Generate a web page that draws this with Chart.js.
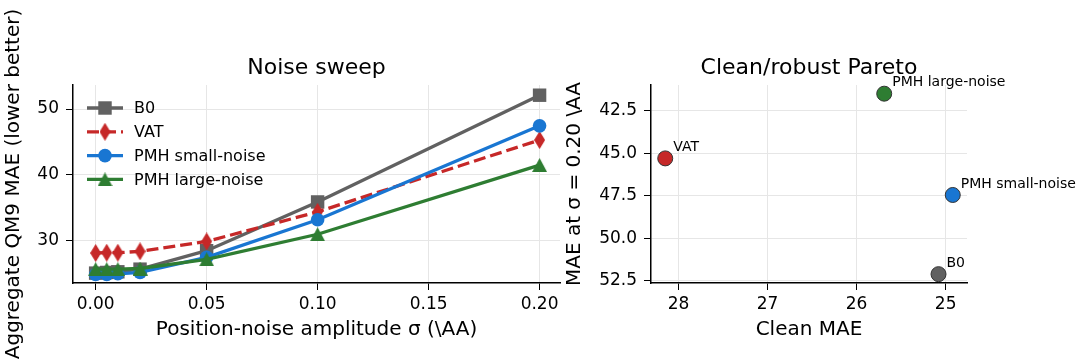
<!doctype html>
<html>
<head>
<meta charset="UTF-8">
<script src="https://cdn.jsdelivr.net/npm/chart.js"></script>
<style>
  body { margin: 0; background: #fff; width: 1077px; height: 360px; position: relative; overflow: hidden; }
  canvas { position: absolute; top: 0; }
  #sweep { left: 0; }
  #pareto { left: 541px; }
</style>
</head>
<body>
<canvas id="sweep" width="633" height="360"></canvas>
<canvas id="pareto" width="536" height="360"></canvas>
<script>
  // noise sweep data
  const sigmas = [0, 0.005, 0.01, 0.02, 0.05, 0.1, 0.2];
  const maeB0 = [25.1, 25.2, 25.3, 25.7, 28.5, 35.9, 52.1];
  const maeVat = [28.15, 28.2, 28.2, 28.4, 29.9, 34.4, 45.3];
  const maePmhSmall = [24.9, 24.9, 25.0, 25.2, 27.5, 33.2, 47.45];
  const maePmhLarge = [25.7, 25.7, 25.7, 25.8, 27.2, 31.0, 41.5];
  const sweepXTicks = [0, 0.05, 0.1, 0.15, 0.2];
  const sweepYTicks = [30, 40, 50];

  // pareto data
  const models = ['B0', 'VAT', 'PMH small-noise', 'PMH large-noise'];
  const cleanMae = [25.08, 28.15, 24.92, 25.69];
  const robustMae = [52.1, 45.3, 47.45, 41.5];
  const paretoXTicks = [25, 26, 27, 28];
  const paretoYTicks = [42.5, 45, 47.5, 50, 52.5];

  const colors = ['#616161', '#c62828', '#1976d2', '#2e7d32'];

  Chart.defaults.font.family = "'DejaVu Sans', sans-serif";
  Chart.defaults.color = '#000';
  Chart.defaults.animation = false;
  Chart.defaults.devicePixelRatio = 1;

  function makeMarker(w, h, color, path) {
    const c = document.createElement('canvas');
    c.width = w; c.height = h;
    const g = c.getContext('2d');
    g.fillStyle = color;
    g.beginPath(); path(g, w, h); g.closePath(); g.fill();
    return c;
  }
  const diamond = makeMarker(11, 18, colors[1], (g, w, h) => {
    g.moveTo(w / 2, 0); g.lineTo(w, h / 2); g.lineTo(w / 2, h); g.lineTo(0, h / 2);
  });
  const triangle = makeMarker(15, 14, colors[3], (g, w, h) => {
    g.moveTo(w / 2, 0); g.lineTo(w, h); g.lineTo(0, h);
  });

  const gridColor = '#e6e6e6';
  const tickFont = { size: 17 };
  const labelFont = { size: 20 };

  function series(label, vals, color, style, radius, order, dash) {
    return {
      label: label,
      data: sigmas.map((s, i) => ({ x: s, y: vals[i] })),
      borderColor: color,
      backgroundColor: color,
      borderWidth: 3.3,
      borderDash: dash || [],
      pointStyle: style,
      pointRadius: radius,
      pointBorderWidth: 0,
      pointBackgroundColor: color,
      tension: 0,
      order: order,
      clip: false
    };
  }

  // axes title centred over the plot area, like matplotlib
  const axesTitle = {
    id: 'axesTitle',
    afterDraw(chart, args, opts) {
      const ctx = chart.ctx;
      const a = chart.chartArea;
      ctx.save();
      ctx.font = "22px 'DejaVu Sans'";
      ctx.fillStyle = '#000';
      ctx.textAlign = 'center';
      ctx.textBaseline = 'middle';
      ctx.fillText(opts.text, (a.left + a.right) / 2, 68);
      ctx.restore();
    }
  };

  // legend inside the axes, matplotlib style (line + marker)
  const insideLegend = {
    id: 'insideLegend',
    afterDraw(chart) {
      const ctx = chart.ctx;
      ctx.save();
      ctx.font = "16px 'DejaVu Sans'";
      ctx.textBaseline = 'middle';
      chart.data.datasets.forEach((ds, i) => {
        const y = 108 + i * 23.8;
        ctx.strokeStyle = ds.borderColor;
        ctx.lineWidth = ds.borderWidth;
        ctx.setLineDash(ds.borderDash);
        ctx.beginPath(); ctx.moveTo(87, y); ctx.lineTo(123, y); ctx.stroke();
        ctx.setLineDash([]);
        ctx.fillStyle = ds.borderColor;
        const cx = 105;
        if (ds.pointStyle instanceof HTMLCanvasElement) {
          ctx.drawImage(ds.pointStyle, cx - ds.pointStyle.width / 2, y - ds.pointStyle.height / 2);
        } else if (ds.pointStyle === 'rect') {
          const s = ds.pointRadius * Math.SQRT1_2;
          ctx.fillRect(cx - s, y - s, 2 * s, 2 * s);
        } else {
          ctx.beginPath(); ctx.arc(cx, y, ds.pointRadius, 0, Math.PI * 2); ctx.fill();
        }
        ctx.fillStyle = '#000';
        ctx.fillText(ds.label, 134, y + 1);
      });
      ctx.restore();
    }
  };

  new Chart(document.getElementById('sweep'), {
    type: 'line',
    data: {
      datasets: [
        series('B0', maeB0, colors[0], 'rect', 9.5, 4),
        series('VAT', maeVat, colors[1], diamond, 8, 3, [12, 5]),
        series('PMH small-noise', maePmhSmall, colors[2], 'circle', 6.8, 2),
        series('PMH large-noise', maePmhLarge, colors[3], triangle, 8, 1)
      ]
    },
    options: {
      responsive: false,
      layout: { padding: { left: 0, right: 73, top: 85, bottom: 0 } },
      plugins: {
        legend: { display: false },
        tooltip: { enabled: false },
        title: { display: false },
        axesTitle: { text: 'Noise sweep' }
      },
      scales: {
        x: {
          type: 'linear', min: -0.0102, max: 0.2092,
          afterBuildTicks: s => { s.ticks = sweepXTicks.map(v => ({ value: v })); },
          afterFit: s => { s.height = 77; },
          ticks: { font: tickFont, padding: 4, maxRotation: 0, callback: v => v.toFixed(2) },
          grid: { color: gridColor, tickColor: '#000', tickLength: 7 },
          border: { color: '#000', width: 1.5 },
          title: { display: true, text: 'Position-noise amplitude σ (\\AA)', font: labelFont, padding: { top: 0, bottom: 18 } }
        },
        y: {
          min: 23.6, max: 53.65,
          afterBuildTicks: s => { s.ticks = sweepYTicks.map(v => ({ value: v })); },
          afterFit: s => { s.width = 73; },
          ticks: { font: tickFont, padding: 7 },
          grid: { color: gridColor, tickColor: '#000', tickLength: 7 },
          border: { color: '#000', width: 1.5 },
          title: { display: true, text: 'Aggregate QM9 MAE (lower better)', font: labelFont, padding: { top: 2, bottom: 0 } }
        }
      }
    },
    plugins: [insideLegend, axesTitle]
  });

  // point annotations for the pareto scatter
  const pointLabels = {
    id: 'pointLabels',
    afterDatasetsDraw(chart) {
      const ctx = chart.ctx;
      const meta = chart.getDatasetMeta(0);
      ctx.save();
      ctx.font = "14px 'DejaVu Sans'";
      ctx.fillStyle = '#000';
      ctx.textBaseline = 'middle';
      meta.data.forEach((pt, i) => {
        ctx.fillText(models[i], pt.x + 8, pt.y - 11);
      });
      ctx.restore();
    }
  };

  new Chart(document.getElementById('pareto'), {
    type: 'scatter',
    data: {
      datasets: [{
        data: cleanMae.map((c, i) => ({ x: c, y: robustMae[i] })),
        backgroundColor: colors,
        borderColor: '#333',
        borderWidth: 1,
        pointRadius: 7.5,
        clip: false
      }]
    },
    options: {
      responsive: false,
      layout: { padding: { left: 0, right: 110, top: 85, bottom: 0 } },
      plugins: {
        legend: { display: false },
        tooltip: { enabled: false },
        title: { display: false },
        axesTitle: { text: 'Clean/robust Pareto' }
      },
      scales: {
        x: {
          type: 'linear', reverse: true, min: 24.76, max: 28.31,
          afterBuildTicks: s => { s.ticks = paretoXTicks.map(v => ({ value: v })); },
          afterFit: s => { s.height = 77; },
          ticks: { font: tickFont, padding: 4, maxRotation: 0, callback: v => String(v) },
          grid: { color: gridColor, tickColor: '#000', tickLength: 7 },
          border: { color: '#000', width: 1.5 },
          title: { display: true, text: 'Clean MAE', font: labelFont, padding: { top: 0, bottom: 18 } }
        },
        y: {
          reverse: true, min: 40.99, max: 52.62,
          afterBuildTicks: s => { s.ticks = paretoYTicks.map(v => ({ value: v })); },
          afterFit: s => { s.width = 110; },
          ticks: { font: tickFont, padding: 7, callback: v => v.toFixed(1) },
          grid: { color: gridColor, tickColor: '#000', tickLength: 7 },
          border: { color: '#000', width: 1.5 },
          title: { display: true, text: 'MAE at σ = 0.20 \\AA', font: labelFont, padding: { top: 22, bottom: 0 } }
        }
      }
    },
    plugins: [pointLabels, axesTitle]
  });
</script>
</body>
</html>
